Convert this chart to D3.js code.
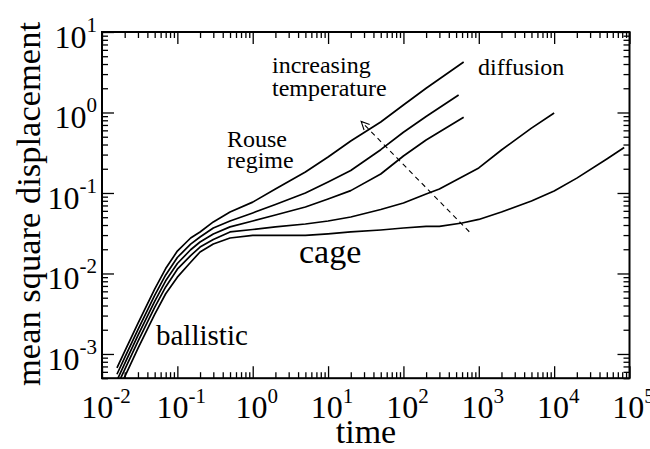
<!DOCTYPE html>
<html><head><meta charset="utf-8">
<script src="https://cdn.jsdelivr.net/npm/d3@7"></script>
<style>body{margin:0;background:#fff}text{font-family:"Liberation Serif","Times New Roman",serif;fill:#000}</style>
</head><body><svg id="c" width="650" height="449"></svg>
<script>
const xDomain = [1e-2, 1e5];
const yDomain = [5e-4, 10];
const xTickExp = [-2, -1, 0, 1, 2, 3, 4, 5];
const yTickExp = [-3, -2, -1, 0, 1];

const tBase = [0.0158,0.02,0.03,0.05,0.07,0.1,0.15,0.2,0.3,0.5,1,2,5,10,20,50,100,200];
const t1 = tBase.concat([630]);
const m1 = [6.7e-4,1.08e-3,2.4e-3,6.4e-3,0.0115,0.019,0.0276,0.0328,0.0437,0.058,0.077,0.112,0.182,0.28,0.443,0.762,1.24,2.0,4.24];
const t2 = tBase.concat([540]);
const m2 = [5.6e-4,9.0e-4,2.0e-3,5.35e-3,9.6e-3,0.0158,0.0232,0.0284,0.0367,0.0449,0.0565,0.072,0.100,0.137,0.19,0.345,0.568,0.892,1.65];
const t3 = tBase.concat([630]);
const m3 = [4.7e-4,7.6e-4,1.7e-3,4.5e-3,8.1e-3,0.0133,0.0197,0.0246,0.0310,0.0379,0.0449,0.0533,0.0670,0.0841,0.107,0.172,0.288,0.455,0.871];
const t4 = tBase.concat([300,1000,2000,5000,10000]);
const m4 = [4.0e-4,6.4e-4,1.43e-3,3.8e-3,6.8e-3,0.0113,0.0167,0.0213,0.0264,0.0328,0.0352,0.0379,0.0412,0.0449,0.0503,0.0624,0.0752,0.0973,0.112,0.205,0.342,0.64,0.986];
const t5 = tBase.concat([300,600,1000,2000,5000,10000,20000,50000,85000]);
const m5 = [3.2e-4,5.2e-4,1.17e-3,3.1e-3,5.6e-3,0.009,0.0138,0.0185,0.0232,0.0276,0.0297,0.0297,0.0297,0.0310,0.0328,0.0347,0.0367,0.0384,0.0384,0.0424,0.0469,0.0581,0.0796,0.106,0.153,0.264,0.367];

const arrowFrom = [748, 0.033];
const arrowTo = [27.5, 0.773];

const L = 102, R = 629.5, T = 32, B = 378.2;
const svg = d3.select("#c");
const x = d3.scaleLog().domain(xDomain).range([L, R]);
const y = d3.scaleLog().domain(yDomain).range([B, T]);

svg.append("defs").append("clipPath").attr("id","clip")
  .append("rect").attr("x",L).attr("y",T).attr("width",R-L).attr("height",B-T);

function minors(exps){ const a=[]; for(let i=0;i<exps.length-1;i++){ for(let k=2;k<=9;k++) a.push(k*Math.pow(10,exps[i])); } return a; }
const xMaj = xTickExp.map(e=>Math.pow(10,e));
const yMaj = yTickExp.map(e=>Math.pow(10,e));
const xMin = minors(xTickExp);
const yMin = minors([-4].concat(yTickExp)).filter(v=>v>=yDomain[0]);

function axisG(gen, tr){ const g = svg.append("g").attr("transform",tr).call(gen); g.select(".domain").remove(); g.selectAll("line").attr("stroke","#000").attr("stroke-width",1.3); return g; }
axisG(d3.axisBottom(x).tickValues(xMaj).tickSize(-12).tickFormat(""), `translate(0,${B})`);
axisG(d3.axisBottom(x).tickValues(xMin).tickSize(-6).tickFormat(""), `translate(0,${B})`);
axisG(d3.axisTop(x).tickValues(xMaj).tickSize(-12).tickFormat(""), `translate(0,${T})`);
axisG(d3.axisTop(x).tickValues(xMin).tickSize(-6).tickFormat(""), `translate(0,${T})`);
axisG(d3.axisLeft(y).tickValues(yMaj).tickSize(-12).tickFormat(""), `translate(${L},0)`);
axisG(d3.axisLeft(y).tickValues(yMin).tickSize(-6).tickFormat(""), `translate(${L},0)`);
axisG(d3.axisRight(y).tickValues(yMaj).tickSize(-12).tickFormat(""), `translate(${R},0)`);
axisG(d3.axisRight(y).tickValues(yMin).tickSize(-6).tickFormat(""), `translate(${R},0)`);

svg.append("rect").attr("x",L).attr("y",T).attr("width",R-L).attr("height",B-T)
  .attr("fill","none").attr("stroke","#000").attr("stroke-width",2);

xTickExp.forEach(e=>{
  const t = svg.append("text").attr("x", x(Math.pow(10,e))+4).attr("y", 418)
    .attr("text-anchor","middle").attr("font-size",32);
  t.append("tspan").text("10");
  t.append("tspan").attr("dy",-15).attr("font-size",21).text(e);
});
yTickExp.forEach(e=>{
  const t = svg.append("text").attr("x", 97).attr("y", y(Math.pow(10,e))+16)
    .attr("text-anchor","end").attr("font-size",32);
  t.append("tspan").text("10");
  t.append("tspan").attr("dy",-16).attr("font-size",21).text(e);
});

svg.append("text").attr("x",366).attr("y",443).attr("text-anchor","middle").attr("font-size",34).text("time");
svg.append("text").attr("transform",`translate(40,204) rotate(-90)`).attr("text-anchor","middle").attr("font-size",34.5).text("mean square displacement");

const line = d3.line().x(d=>x(d[0])).y(d=>y(d[1]));
const series = [[t1,m1],[t2,m2],[t3,m3],[t4,m4],[t5,m5]];
const pg = svg.append("g").attr("clip-path","url(#clip)");
series.forEach(([ts,ms])=>{
  pg.append("path").datum(ts.map((t,i)=>[t,ms[i]])).attr("d",line)
    .attr("fill","none").attr("stroke","#000").attr("stroke-width",1.7).attr("stroke-linejoin","round");
});

const ax0=x(arrowFrom[0]), ay0=y(arrowFrom[1]), ax1=x(arrowTo[0]), ay1=y(arrowTo[1]);
svg.append("line").attr("x1",ax0).attr("y1",ay0).attr("x2",ax1).attr("y2",ay1)
  .attr("stroke","#000").attr("stroke-width",1.1).attr("stroke-dasharray","5,4");
const ang = Math.atan2(ay0-ay1, ax0-ax1), hl=9, ha=0.45;
svg.append("path").attr("d",`M${ax1+hl*Math.cos(ang+ha)},${ay1+hl*Math.sin(ang+ha)}L${ax1},${ay1}L${ax1+hl*Math.cos(ang-ha)},${ay1+hl*Math.sin(ang-ha)}`)
  .attr("fill","none").attr("stroke","#000").attr("stroke-width",1.1);

const ann = [
  ["increasing",272,73,24],["temperature",272,96,24],["diffusion",478,75,24],
  ["Rouse",227,147,24],["regime",227,168,24],["cage",299,263,34],["ballistic",156,345,29]
];
ann.forEach(([s,px,py,fs])=>svg.append("text").attr("x",px).attr("y",py).attr("font-size",fs).text(s));
</script></body></html>
